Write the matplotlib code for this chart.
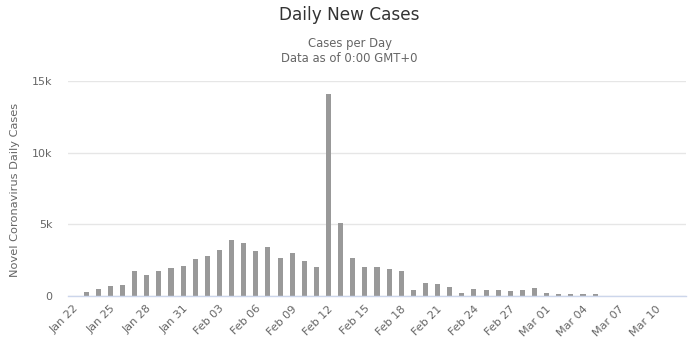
import matplotlib
matplotlib.use("Agg")
import matplotlib.pyplot as plt
import matplotlib.transforms as mtransforms
import datetime as dt

start = dt.date(2020, 1, 22)
n_days = 51
dates = [start + dt.timedelta(days=i) for i in range(n_days)]
categories = [d.strftime("%b %d") for d in dates]

daily_new_cases = [
    0, 259, 457, 688, 769, 1771, 1459, 1737, 1981, 2099,   # Jan 22 - Jan 31
    2589, 2825, 3233, 3886, 3694, 3143, 3385, 2652, 2973, 2467,  # Feb 01 - Feb 10
    2015, 14108, 5090, 2641, 2008, 2048, 1888, 1749, 391, 889,  # Feb 11 - Feb 20
    823, 648, 214, 508, 406, 433, 327, 427, 573,               # Feb 21 - Feb 29
    202, 125, 119, 139, 143, 0, 0, 0, 0, 0, 0, 0,              # Mar 01 - Mar 12
]

y_ticks = [0, 5000, 10000, 15000]
y_tick_labels = ["0", "5k", "10k", "15k"]

W, H = 699, 352
fig = plt.figure(figsize=(W / 100, H / 100), dpi=100)
left, right, top, bottom = 68, 686, 81, 296
ax = fig.add_axes([left / W, (H - bottom) / H, (right - left) / W, (bottom - top) / H])

x = list(range(n_days))
ax.bar(x, daily_new_cases, width=0.42, color="#999999", zorder=3)

ax.set_xlim(-0.5, n_days - 0.5)
ax.set_ylim(0, 15000)
ax.set_yticks(y_ticks)
ax.set_yticklabels(y_tick_labels)
ax.grid(axis="y", color="#e6e6e6", linewidth=1, zorder=0)

for s in ["top", "right", "left"]:
    ax.spines[s].set_visible(False)
ax.spines["bottom"].set_color("#ccd6eb")
ax.spines["bottom"].set_linewidth(1)
ax.spines["bottom"].set_zorder(4)

ax.tick_params(axis="y", length=0, pad=11, labelsize=8, labelcolor="#666666")
ax.tick_params(axis="x", length=0, pad=8, labelsize=8, labelcolor="#666666")

xt = x[::3]
ax.set_xticks(xt)
ax.set_xticklabels([categories[i] for i in xt], rotation=45, ha="right",
                   va="center", rotation_mode="anchor")
offset = mtransforms.ScaledTranslation(3 / 100, 0, fig.dpi_scale_trans)
for lbl in ax.get_xticklabels():
    lbl.set_transform(lbl.get_transform() + offset)

fig.text(15.5 / W, 1 - 190 / H, "Novel Coronavirus Daily Cases", rotation=90,
         ha="center", va="center", fontsize=8.2, color="#666666")

fig.text(0.5, 1 - 15 / H, "Daily New Cases", ha="center", va="center",
         fontsize=12.2, color="#333333")
fig.text(0.5, 1 - 44 / H, "Cases per Day", ha="center", va="center",
         fontsize=8.4, color="#666666")
fig.text(0.5, 1 - 59 / H, "Data as of 0:00 GMT+0", ha="center", va="center",
         fontsize=8.4, color="#666666")

fig.savefig("out.png", dpi=100)
